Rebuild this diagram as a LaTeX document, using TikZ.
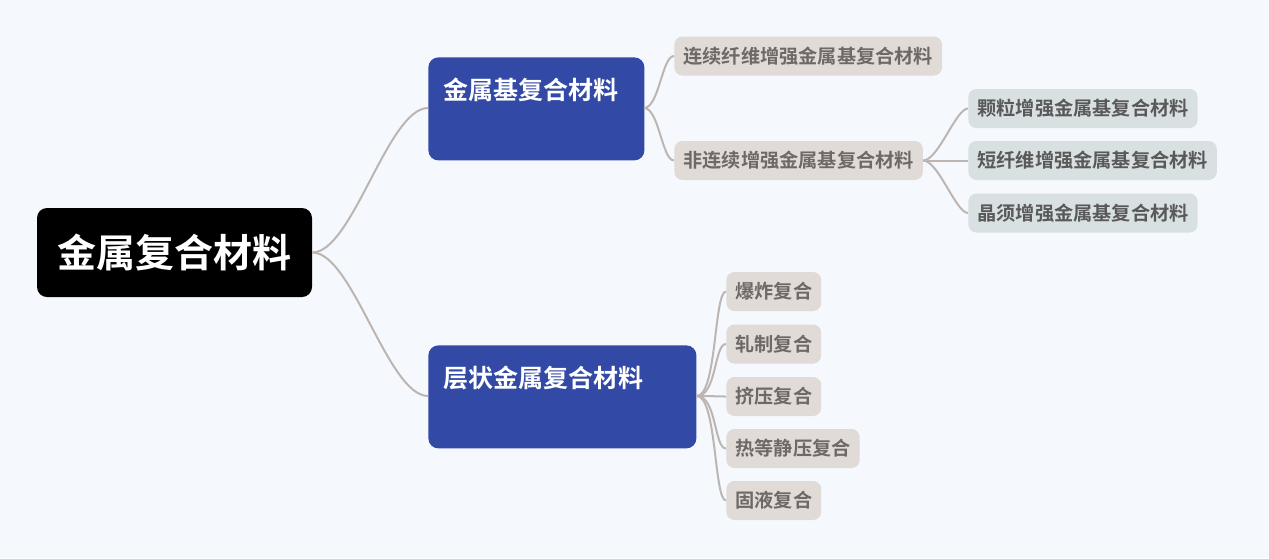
\documentclass[tikz,border=0pt]{standalone}
\usepackage{fontspec}
\setmainfont{Noto Sans CJK SC}[BoldFont={* Bold}]
\usetikzlibrary{positioning}
\definecolor{bgcol}{HTML}{F5F9FD}
\definecolor{linecol}{HTML}{BDB5B1}
\definecolor{bluebox}{HTML}{3249A6}
\definecolor{graybox}{HTML}{E1DBD8}
\definecolor{slatebox}{HTML}{D9E0E2}
\definecolor{graytext}{HTML}{6E6966}
\tikzset{
  rootbox/.style={fill=black, rounded corners=5pt, text=white, font=\bfseries\fontsize{19.5}{22}\selectfont,
    minimum width=137.5pt, minimum height=44.5pt, inner sep=0pt},
  mainbox/.style={fill=bluebox, rounded corners=5pt, text=white, font=\bfseries\fontsize{12.5}{15}\selectfont,
    anchor=north west, align=left, inner xsep=7.5pt, inner ysep=0pt, text height=21pt, text depth=30.5pt},
  leafbox/.style={fill=graybox, rounded corners=4pt, text=graytext, font=\bfseries\fontsize{9.6}{12}\selectfont,
    anchor=west, minimum height=19.5pt, inner xsep=4.5pt, inner ysep=0pt},
  subbox/.style={leafbox, fill=slatebox, text=black!65},
  link/.style={draw=linecol, line width=1pt}
}
\begin{document}
\begin{tikzpicture}[x=0.5pt, y=-0.5pt]
  \fill[bgcol] (0,0) rectangle (1269,558);
  \useasboundingbox (0,0) rectangle (1269,558);
  \node[rootbox] (root) at (174.5,252.5) {金属复合材料};
  \node[mainbox, text width=93pt] (mmc) at (428,57) {金属基复合材料};
  \node[mainbox, text width=119pt] (lmc) at (428,345) {层状金属复合材料};
  \node[leafbox] (cont) at (674,56) {连续纤维增强金属基复合材料};
  \node[leafbox] (disc) at (674,160.5) {非连续增强金属基复合材料};
  \node[subbox] (part) at (968,108.5) {颗粒增强金属基复合材料};
  \node[subbox] (fibr) at (968,160.5) {短纤维增强金属基复合材料};
  \node[subbox] (whis) at (968,213) {晶须增强金属基复合材料};
  \node[leafbox] (expl) at (726,291.5) {爆炸复合};
  \node[leafbox] (roll) at (726,344) {轧制复合};
  \node[leafbox] (extr) at (726,396.5) {挤压复合};
  \node[leafbox] (hipc) at (726,448.5) {热等静压复合};
  \node[leafbox] (soli) at (726,500.5) {固液复合};
  % connectors
  \draw[link] (root.east) .. controls +(40,0) and +(-40,0) .. (mmc.west |- 0,108);
  \draw[link] (root.east) .. controls +(40,0) and +(-40,0) .. (lmc.west |- 0,396);
  \foreach \t in {cont,disc}
    \draw[link] (644,108) .. controls +(15,0) and +(-12,0) .. (\t.west);
  \foreach \t in {part,fibr,whis}
    \draw[link] (disc.east) .. controls +(15,0) and +(-12,0) .. (\t.west);
  \foreach \t in {expl,roll,extr,hipc,soli}
    \draw[link] (lmc.east |- 0,396) .. controls +(20,0) and +(-12,0) .. (\t.west);
\end{tikzpicture}
\end{document}
